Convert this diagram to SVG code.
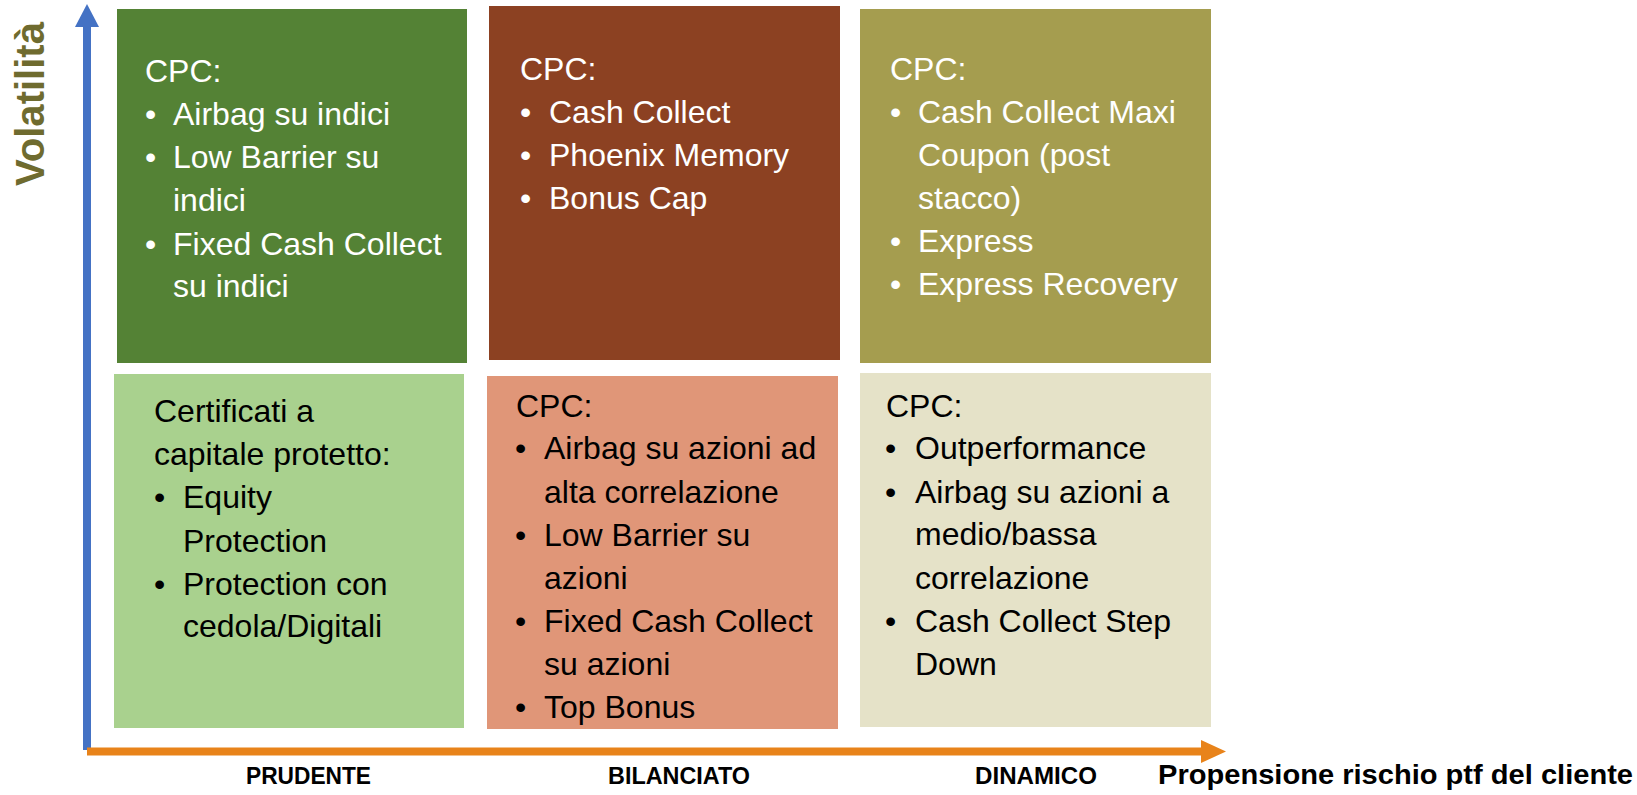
<svg xmlns="http://www.w3.org/2000/svg" width="1637" height="795" viewBox="0 0 1637 795">
<style>
.t{font-family:"Liberation Sans",Arial,sans-serif;font-size:32px}
.w{fill:#ffffff}
.k{fill:#000000}
.ax{font-family:"Liberation Sans",Arial,sans-serif;font-weight:bold;font-size:23px;fill:#000}
</style>
<rect width="1637" height="795" fill="#ffffff"/>
<g id="connectors">
<rect x="83" y="25" width="8" height="725" fill="#4472C4"/>
<polygon points="75,27 87,4 99,27" fill="#4472C4"/>
<rect x="87" y="747.5" width="1116" height="8" fill="#E8831A"/>
<polygon points="1201,740 1226,751.5 1201,763" fill="#E8831A"/>
</g>
<g id="axis-labels">
<text transform="translate(44,186) rotate(-90)" font-family="Liberation Sans, Arial, sans-serif" font-weight="bold" font-size="40" fill="#6F6B2F" textLength="164" lengthAdjust="spacingAndGlyphs">Volatilità</text>
<text class="ax" x="246" y="784" textLength="125" lengthAdjust="spacingAndGlyphs">PRUDENTE</text>
<text class="ax" x="608" y="784" textLength="142" lengthAdjust="spacingAndGlyphs">BILANCIATO</text>
<text class="ax" x="975" y="784" textLength="122" lengthAdjust="spacingAndGlyphs">DINAMICO</text>
<text x="1158" y="784" font-family="Liberation Sans, Arial, sans-serif" font-weight="bold" font-size="28" fill="#000" textLength="475" lengthAdjust="spacingAndGlyphs">Propensione rischio ptf del cliente</text>
</g>
<g id="prudente-alta">
<rect x="117" y="9" width="350" height="354" fill="#548235"/>
<text class="t w" x="145" y="82">CPC:</text>
<text class="t w" x="145" y="125">•</text><text class="t w" x="173" y="125">Airbag su indici</text>
<text class="t w" x="145" y="168">•</text><text class="t w" x="173" y="168">Low Barrier su</text>
<text class="t w" x="173" y="211">indici</text>
<text class="t w" x="145" y="255">•</text><text class="t w" x="173" y="255">Fixed Cash Collect</text>
<text class="t w" x="173" y="297">su indici</text>
</g>
<g id="bilanciato-alta">
<rect x="489" y="6" width="351" height="354" fill="#8C4122"/>
<text class="t w" x="520" y="80">CPC:</text>
<text class="t w" x="520" y="123">•</text><text class="t w" x="549" y="123">Cash Collect</text>
<text class="t w" x="520" y="166">•</text><text class="t w" x="549" y="166">Phoenix Memory</text>
<text class="t w" x="520" y="209">•</text><text class="t w" x="549" y="209">Bonus Cap</text>
</g>
<g id="dinamico-alta">
<rect x="860" y="9" width="351" height="354" fill="#A59D4F"/>
<text class="t w" x="890" y="80">CPC:</text>
<text class="t w" x="890" y="123">•</text><text class="t w" x="918" y="123">Cash Collect Maxi</text>
<text class="t w" x="918" y="166">Coupon (post</text>
<text class="t w" x="918" y="209">stacco)</text>
<text class="t w" x="890" y="252">•</text><text class="t w" x="918" y="252">Express</text>
<text class="t w" x="890" y="295">•</text><text class="t w" x="918" y="295">Express Recovery</text>
</g>
<g id="prudente-bassa">
<rect x="114" y="374" width="350" height="354" fill="#A9D18E"/>
<text class="t k" x="154" y="422">Certificati a</text>
<text class="t k" x="154" y="465">capitale protetto:</text>
<text class="t k" x="154" y="508">•</text><text class="t k" x="183" y="508">Equity</text>
<text class="t k" x="183" y="552">Protection</text>
<text class="t k" x="154" y="595">•</text><text class="t k" x="183" y="595">Protection con</text>
<text class="t k" x="183" y="637">cedola/Digitali</text>
</g>
<g id="bilanciato-bassa">
<rect x="487" y="376" width="351" height="353" fill="#E09678"/>
<text class="t k" x="516" y="417">CPC:</text>
<text class="t k" x="515" y="459">•</text><text class="t k" x="544" y="459">Airbag su azioni ad</text>
<text class="t k" x="544" y="503">alta correlazione</text>
<text class="t k" x="515" y="546">•</text><text class="t k" x="544" y="546">Low Barrier su</text>
<text class="t k" x="544" y="589">azioni</text>
<text class="t k" x="515" y="632">•</text><text class="t k" x="544" y="632">Fixed Cash Collect</text>
<text class="t k" x="544" y="675">su azioni</text>
<text class="t k" x="515" y="718">•</text><text class="t k" x="544" y="718">Top Bonus</text>
</g>
<g id="dinamico-bassa">
<rect x="860" y="373" width="351" height="354" fill="#E5E2C8"/>
<text class="t k" x="886" y="417">CPC:</text>
<text class="t k" x="885" y="459">•</text><text class="t k" x="915" y="459">Outperformance</text>
<text class="t k" x="885" y="503">•</text><text class="t k" x="915" y="503">Airbag su azioni a</text>
<text class="t k" x="915" y="545">medio/bassa</text>
<text class="t k" x="915" y="589">correlazione</text>
<text class="t k" x="885" y="632">•</text><text class="t k" x="915" y="632">Cash Collect Step</text>
<text class="t k" x="915" y="675">Down</text>
</g>
</svg>
